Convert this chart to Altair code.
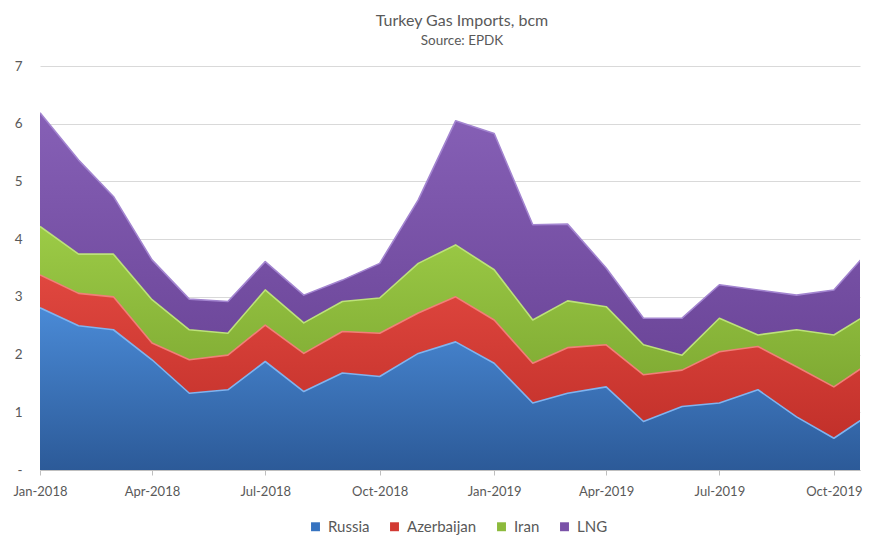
import altair as alt
import pandas as pd

months = [
    "2018-01-01", "2018-02-01", "2018-03-01", "2018-04-01", "2018-05-01", "2018-06-01",
    "2018-07-01", "2018-08-01", "2018-09-01", "2018-10-01", "2018-11-01", "2018-12-01",
    "2019-01-01", "2019-02-01", "2019-03-01", "2019-04-01", "2019-05-01", "2019-06-01",
    "2019-07-01", "2019-08-01", "2019-09-01", "2019-10-01", "2019-11-01",
]
russia = [2.81, 2.50, 2.43, 1.91, 1.33, 1.39, 1.88, 1.36, 1.68, 1.62, 2.02, 2.22,
          1.85, 1.16, 1.33, 1.44, 0.84, 1.10, 1.16, 1.39, 0.92, 0.55, 1.00]
azerbaijan = [0.57, 0.56, 0.57, 0.29, 0.58, 0.60, 0.63, 0.66, 0.72, 0.75, 0.70, 0.78,
              0.75, 0.69, 0.79, 0.73, 0.81, 0.63, 0.89, 0.75, 0.87, 0.89, 0.89]
iran = [0.84, 0.68, 0.74, 0.75, 0.52, 0.38, 0.61, 0.53, 0.52, 0.61, 0.86, 0.90,
        0.87, 0.75, 0.81, 0.66, 0.52, 0.26, 0.58, 0.20, 0.64, 0.90, 0.86]
lng = [1.97, 1.63, 1.00, 0.69, 0.53, 0.55, 0.49, 0.48, 0.37, 0.60, 1.10, 2.15,
       2.36, 1.65, 1.33, 0.67, 0.46, 0.64, 0.58, 0.78, 0.60, 0.78, 1.12]

series_names = ["Russia", "Azerbaijan", "Iran", "LNG"]
series_values = [russia, azerbaijan, iran, lng]
base_colors = ["#3673c0", "#d23a33", "#8cba3c", "#7a52a8"]
top_colors = ["#4a8ad6", "#e0473f", "#9ccb46", "#8660b6"]
bottom_colors = ["#2c5a98", "#c2302a", "#7faa33", "#6c4699"]
edge_colors = ["#7fb4f0", "#f08078", "#bde27a", "#a385d0"]

rows = []
for k, (name, vals) in enumerate(zip(series_names, series_values)):
    for m, v in zip(months, vals):
        rows.append({"date": m + "T00:00:00", "series": name, "ord": k, "value": v})
df = pd.DataFrame(rows)

FONT = "Lato"
GREY = "#595959"

x_enc = alt.X(
    "date:T",
    scale=alt.Scale(domain=[alt.DateTime(year=2018, month=1, date=1),
                            alt.DateTime(year=2019, month=10, date=22)]),
    axis=alt.Axis(title=None, format="%b-%Y", tickCount={"interval": "month", "step": 3},
                  grid=False, domainColor="#bfbfbf", tickColor="#bfbfbf", tickSize=5,
                  labelPadding=10, labelFontSize=13, labelColor=GREY, labelFont=FONT,
                  labelFlush=False, labelOverlap=False),
)
y_scale = alt.Scale(domain=[0, 7], nice=False, zero=True)

stacked = alt.Chart(df).transform_stack(
    stack="value", groupby=["date"], as_=["y0", "y1"],
    sort=[alt.SortField("ord", order="ascending")],
)

base = stacked.mark_area(clip=True).encode(
    x=x_enc,
    y=alt.Y("y1:Q", scale=y_scale,
            axis=alt.Axis(title=None, values=[0, 1, 2, 3, 4, 5, 6, 7], grid=True,
                          gridColor="#d9d9d9", domain=False, ticks=False, labelPadding=18,
                          format="d", labelFontSize=13.5, labelColor=GREY, labelFont=FONT,
                          labelExpr="datum.value == 0 ? '-' : datum.label")),
    y2="y0:Q",
    color=alt.Color("series:N",
                    scale=alt.Scale(domain=series_names, range=base_colors),
                    sort=series_names,
                    legend=alt.Legend(title=None, orient="none", direction="horizontal",
                                      legendX=268, legendY=453, symbolType="square",
                                      symbolSize=80, symbolStrokeWidth=0,
                                      labelFontSize=15, labelColor=GREY, labelFont=FONT,
                                      columnPadding=17, labelOffset=5)),
)

layers = [base]
for k, name in enumerate(series_names):
    grad = alt.Gradient(
        gradient="linear",
        stops=[alt.GradientStop(color=top_colors[k], offset=0),
               alt.GradientStop(color=bottom_colors[k], offset=1)],
        x1=0, x2=0, y1=0, y2=1,
    )
    sub = stacked.transform_filter(alt.datum.series == name)
    layers.append(sub.mark_area(clip=True, color=grad).encode(
        x=x_enc, y=alt.Y("y1:Q", scale=y_scale), y2="y0:Q"))
for k, name in enumerate(series_names):
    sub = stacked.transform_filter(alt.datum.series == name)
    layers.append(sub.mark_line(clip=True, color=edge_colors[k], strokeWidth=1.6,
                                strokeJoin="round").encode(
        x=x_enc, y=alt.Y("y1:Q", scale=y_scale)))

chart = alt.layer(*layers).properties(
    width=820,
    height=404,
    autosize=alt.AutoSizeParams(type="none"),
    padding={"left": 32, "top": 58, "right": 5, "bottom": 68},
    title=alt.TitleParams(text="Turkey Gas Imports, bcm", subtitle="Source: EPDK",
                          fontSize=16, subtitleFontSize=13.5, font=FONT, subtitleFont=FONT,
                          fontWeight="normal", color=GREY, subtitleColor=GREY,
                          anchor="middle", offset=12, dx=12, subtitlePadding=5),
).configure_view(stroke=None).configure_axis(labelFont=FONT)

chart.save("out.html", embed_options={"renderer": "svg", "actions": False})
